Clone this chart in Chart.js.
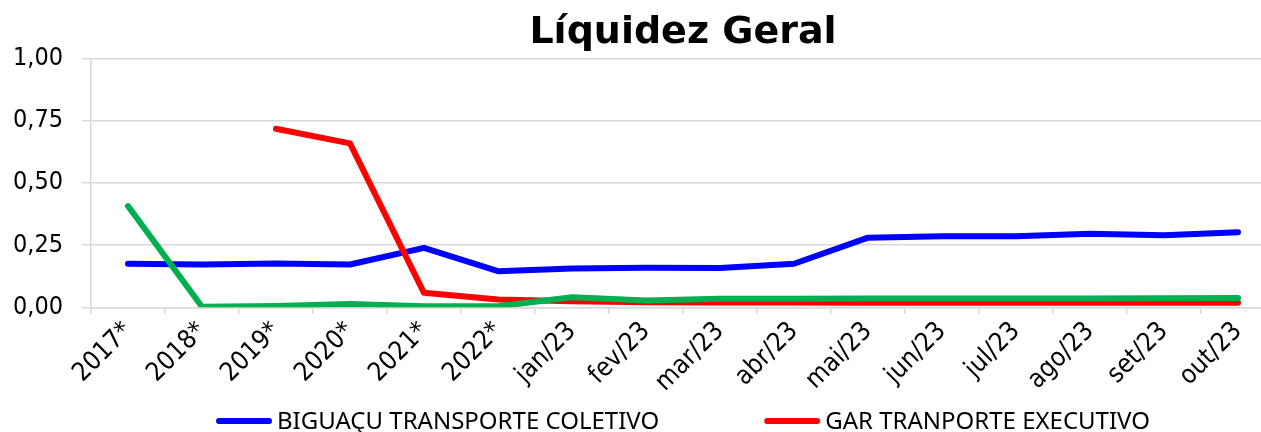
<!DOCTYPE html>
<html>
<head>
<meta charset="utf-8">
<script src="https://cdn.jsdelivr.net/npm/chart.js@4/dist/chart.umd.min.js"></script>
<style>
html,body{margin:0;padding:0;background:#fff;overflow:hidden;}
#wrap{width:1261px;height:432px;overflow:hidden;position:relative;}
#box{width:1290px;height:432px;position:absolute;left:0;top:0;}
</style>
</head>
<body>
<div id="wrap"><div id="box"><canvas id="c"></canvas></div></div>
<script>
const categories = ['2017*','2018*','2019*','2020*','2021*','2022*','jan/23','fev/23','mar/23','abr/23','mai/23','jun/23','jul/23','ago/23','set/23','out/23'];
const biguacu = [0.175,0.172,0.176,0.172,0.239,0.145,0.156,0.159,0.158,0.175,0.280,0.286,0.286,0.296,0.290,0.302];
const gar = [null,null,0.718,0.659,0.058,0.031,0.024,0.020,0.019,0.019,0.018,0.018,0.018,0.018,0.018,0.018];
const terceira = [0.407,0.002,0.005,0.013,0.004,0.004,0.040,0.027,0.034,0.034,0.035,0.035,0.035,0.035,0.036,0.037];
const yTicks = [0,0.25,0.5,0.75,1];
const legendNames = ['BIGUAÇU TRANSPORTE COLETIVO','GAR TRANPORTE EXECUTIVO'];

const TICK_FONT = "'DejaVu Sans Condensed', 'DejaVu Sans', sans-serif";

const bottomLegend = {
  id: 'bottomLegend',
  afterDraw(chart) {
    const ctx = chart.ctx;
    const ca = chart.chartArea;
    ctx.save();
    ctx.font = "24px 'Noto Sans'";
    ctx.textBaseline = 'middle';
    const lineLen = 56, gapText = 5, gapItem = 105;
    const items = legendNames.map((t, i) => ({text: t, color: chart.data.datasets[i].borderColor, w: ctx.measureText(t).width}));
    let total = items.reduce((s, it) => s + lineLen + gapText + it.w, 0) + gapItem * (items.length - 1);
    let x = (ca.left + ca.right) / 2 - total / 2;
    const y = 421;
    items.forEach(it => {
      ctx.strokeStyle = it.color;
      ctx.lineWidth = 6;
      ctx.lineCap = 'round';
      ctx.beginPath();
      ctx.moveTo(x + 3, y);
      ctx.lineTo(x + lineLen - 3, y);
      ctx.stroke();
      ctx.fillStyle = '#000';
      ctx.fillText(it.text, x + lineLen + gapText, y + 1);
      x += lineLen + gapText + it.w + gapItem;
    });
    ctx.restore();
  }
};

new Chart(document.getElementById('c'), {
  type: 'line',
  data: {
    labels: categories,
    datasets: [
      {label: legendNames[0], data: biguacu, borderColor:'#0000ff', backgroundColor:'#0000ff', borderWidth:6, pointRadius:0, tension:0, order:2, borderCapStyle:'round', borderJoinStyle:'round'},
      {label: legendNames[1], data: gar, borderColor:'#ff0000', backgroundColor:'#ff0000', borderWidth:6, pointRadius:0, tension:0, order:1, borderCapStyle:'round', borderJoinStyle:'round'},
      {label: '', data: terceira, borderColor:'#00b050', backgroundColor:'#00b050', borderWidth:6, pointRadius:0, tension:0, order:0, borderCapStyle:'round', borderJoinStyle:'round'}
    ]
  },
  options: {
    responsive: true,
    maintainAspectRatio: false,
    animation: false,
    layout: {padding: {left: 0, right: 15, top: 10, bottom: 32}},
    plugins: {
      title: {display: true, text: 'Líquidez Geral', fullSize: false, color: '#000', font: {family: 'DejaVu Sans', size: 38, weight: 'bold'}, padding: {top: 0, bottom: 3}},
      legend: {display: false},
      tooltip: {enabled: false}
    },
    scales: {
      x: {
        offset: true,
        afterFit: (s) => { s.paddingLeft = 0; s.paddingRight = 0; },
        grid: {display: true, drawOnChartArea: false, drawTicks: true, tickLength: 7, color: '#d9d9d9', lineWidth: 1.5, offset: true},
        border: {display: true, color: '#d9d9d9', width: 1.5},
        ticks: {color: '#000', font: {family: TICK_FONT, size: 26}, minRotation: 45, maxRotation: 45, autoSkip: false, padding: 2}
      },
      y: {
        min: 0, max: 1,
        afterFit: (s) => { s.width = 91; },
        afterBuildTicks: (axis) => { axis.ticks = yTicks.map(v => ({value: v})); },
        grid: {color: '#d9d9d9', lineWidth: 1.5, tickLength: 9, drawTicks: true},
        border: {display: true, color: '#d9d9d9', width: 1.5},
        ticks: {color: '#000', font: {family: TICK_FONT, size: 25}, padding: 19,
          callback: (v) => v.toFixed(2).replace('.', ',')}
      }
    }
  },
  plugins: [bottomLegend]
});
</script>
</body>
</html>
